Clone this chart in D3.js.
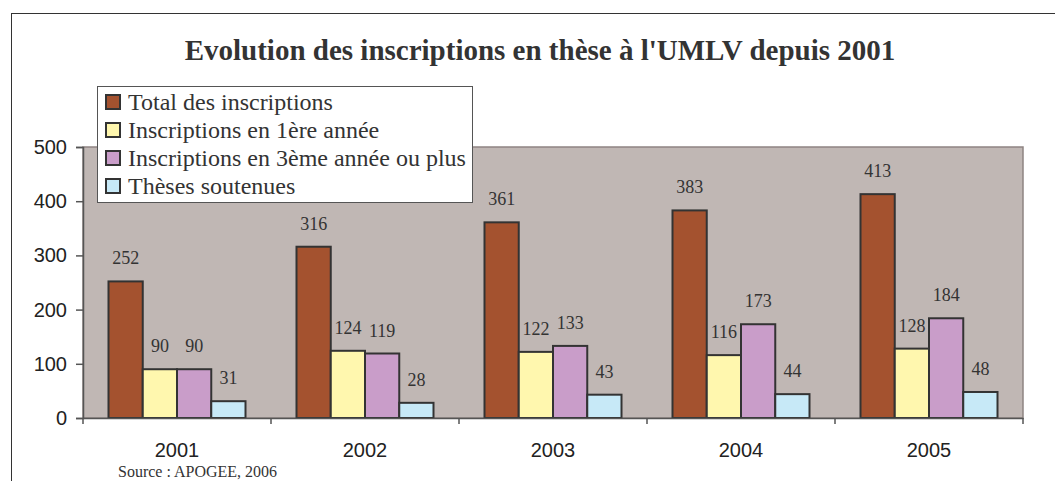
<!DOCTYPE html>
<html>
<head>
<meta charset="utf-8">
<script src="https://cdnjs.cloudflare.com/ajax/libs/d3/7.8.5/d3.min.js"></script>
<style>
  body { margin: 0; background: #fff; }
</style>
</head>
<body>
<div id="chart"></div>
<script>
var years = ["2001", "2002", "2003", "2004", "2005"];
var seriesNames = ["Total des inscriptions", "Inscriptions en 1ère année", "Inscriptions en 3ème année ou plus", "Thèses soutenues"];
var total = [252, 316, 361, 383, 413];
var premiere = [90, 124, 122, 116, 128];
var troisieme = [90, 119, 133, 173, 184];
var soutenues = [31, 28, 43, 44, 48];
var yTicks = [0, 100, 200, 300, 400, 500];
var colors = ["#a4522f", "#fff7ae", "#c99dc9", "#c7e9f7"];

var w = 1055, h = 481;
var plotLeft = 83, plotRight = 1023, plotTop = 147, plotBottom = 418;

var svg = d3.select("#chart").append("svg")
  .attr("width", w)
  .attr("height", h);

// outer frame
svg.append("line").attr("x1", 11).attr("x2", w).attr("y1", 13.5).attr("y2", 13.5)
  .attr("stroke", "#333").attr("stroke-width", 1);
svg.append("line").attr("x1", 11.5).attr("x2", 11.5).attr("y1", 13).attr("y2", h)
  .attr("stroke", "#333").attr("stroke-width", 1);

svg.append("text")
  .attr("x", 540).attr("y", 60)
  .attr("text-anchor", "middle")
  .style("font-family", "'Liberation Serif', 'Times New Roman', serif")
  .style("font-weight", "bold")
  .style("font-size", "29px")
  .style("fill", "#333")
  .text("Evolution des inscriptions en thèse à l'UMLV depuis 2001");

var x0 = d3.scaleBand().domain(years).range([plotLeft, plotRight]);
var x1 = d3.scaleBand().domain(d3.range(4)).range([25.5, x0.bandwidth() - 25.5]);
var y = d3.scaleLinear().domain([0, 500]).range([plotBottom, plotTop]);

// plot area
svg.append("rect")
  .attr("x", plotLeft).attr("y", plotTop)
  .attr("width", plotRight - plotLeft).attr("height", plotBottom - plotTop)
  .attr("fill", "#c0b7b4")
  .attr("stroke", "#8e8482").attr("stroke-width", 1.5);

var data = years.map(function(yr, i) {
  return { year: yr, values: [total[i], premiere[i], troisieme[i], soutenues[i]] };
});

var groups = svg.selectAll("g.year")
  .data(data)
  .enter().append("g")
  .attr("class", "year")
  .attr("transform", function(d) { return "translate(" + x0(d.year) + ",0)"; });

groups.selectAll("rect")
  .data(function(d) { return d.values; })
  .enter().append("rect")
  .attr("x", function(d, i) { return x1(i); })
  .attr("y", function(d) { return y(d); })
  .attr("width", x1.bandwidth())
  .attr("height", function(d) { return y(0) - y(d); })
  .attr("fill", function(d, i) { return colors[i]; })
  .attr("stroke", "#333")
  .attr("stroke-width", 2);

groups.selectAll("text.val")
  .data(function(d) { return d.values; })
  .enter().append("text")
  .attr("class", "val")
  .attr("x", function(d, i) { return x1(i) + x1.bandwidth() / 2; })
  .attr("y", function(d) { return y(d) - 17; })
  .attr("text-anchor", "middle")
  .style("font-family", "'Liberation Serif', 'Times New Roman', serif")
  .style("font-size", "18px")
  .style("fill", "#333")
  .text(function(d) { return d; });

// axes
var yAxis = d3.axisLeft(y).tickValues(yTicks).tickSize(7).tickPadding(9);
var gy = svg.append("g").attr("transform", "translate(" + plotLeft + ",0)").call(yAxis);
gy.select(".domain").attr("stroke", "#555").attr("stroke-width", 1.5);
gy.selectAll(".tick line").attr("stroke", "#555").attr("stroke-width", 1.5);
gy.selectAll(".tick text")
  .style("font-family", "'Liberation Sans', Arial, sans-serif")
  .style("font-size", "20px")
  .style("fill", "#222");

var xAxis = d3.axisBottom(x0).tickSize(0).tickPadding(25);
var gx = svg.append("g").attr("transform", "translate(0," + plotBottom + ")").call(xAxis);
gx.select(".domain").attr("stroke", "#555").attr("stroke-width", 1.5);
gx.selectAll(".tick text")
  .style("font-family", "'Liberation Sans', Arial, sans-serif")
  .style("font-size", "20px")
  .style("fill", "#222");

// category separator ticks
var sep = [plotLeft].concat(years.map(function(yr) { return x0(yr) + x0.bandwidth(); }));
svg.selectAll("line.sep")
  .data(sep)
  .enter().append("line")
  .attr("class", "sep")
  .attr("x1", function(d) { return d; }).attr("x2", function(d) { return d; })
  .attr("y1", plotBottom).attr("y2", plotBottom + 6)
  .attr("stroke", "#555").attr("stroke-width", 1.5);

// legend
var lg = svg.append("g").attr("transform", "translate(97,86)");
lg.append("rect")
  .attr("x", 0.5).attr("y", 0.5)
  .attr("width", 375).attr("height", 116)
  .attr("fill", "#fff")
  .attr("stroke", "#555").attr("stroke-width", 1);

var items = lg.selectAll("g.item")
  .data(seriesNames)
  .enter().append("g")
  .attr("class", "item")
  .attr("transform", function(d, i) { return "translate(9," + (9 + i * 28) + ")"; });

items.append("rect")
  .attr("width", 14).attr("height", 14)
  .attr("fill", function(d, i) { return colors[i]; })
  .attr("stroke", "#333").attr("stroke-width", 2);

items.append("text")
  .attr("x", 22).attr("y", 15)
  .style("font-family", "'Liberation Serif', 'Times New Roman', serif")
  .style("font-size", "24px")
  .style("fill", "#333")
  .text(function(d) { return d; });

svg.append("text")
  .attr("x", 118).attr("y", 477)
  .style("font-family", "'Liberation Serif', 'Times New Roman', serif")
  .style("font-size", "16px")
  .style("fill", "#333")
  .text("Source : APOGEE, 2006");
</script>
</body>
</html>
